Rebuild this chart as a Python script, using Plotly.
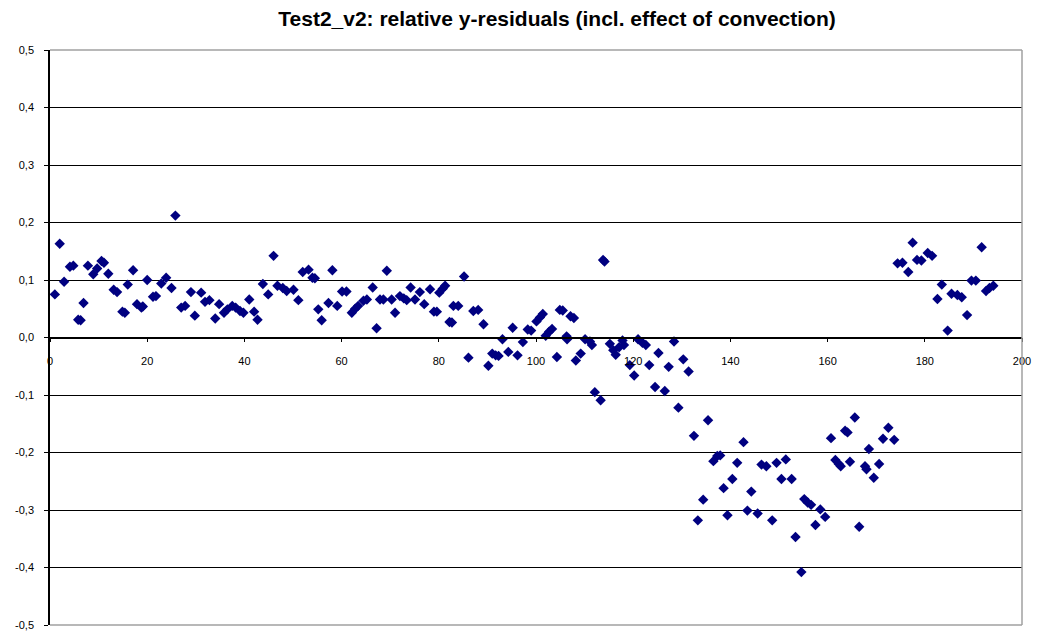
import plotly.graph_objects as go

x_vals = [1.0, 2.0, 2.9, 4.1, 4.8, 5.8, 6.3, 6.9, 7.8, 8.9, 9.7, 10.6, 11.1, 12.0, 13.1, 13.8,
          14.9, 15.4, 16.0, 17.1, 17.9, 18.8, 19.1, 20.0, 21.2, 21.8, 22.9, 23.9, 25.0, 25.8,
          27.0, 27.8, 29.0, 29.8, 31.1, 31.9, 32.8, 34.0, 34.8, 35.8, 36.5, 37.5, 38.2, 39.1,
          39.8, 41.0, 42.0, 42.7, 43.8, 44.9, 46.0, 46.8, 47.9, 48.7, 50.1, 51.1, 52.0, 53.2,
          54.0, 54.5, 55.2, 55.9, 57.3, 58.1, 59.1, 60.1, 61.0, 62.1, 62.8, 63.4, 64.5, 65.2,
          66.4, 67.2, 67.9, 68.6, 69.3, 70.3, 71.0, 72.0, 72.8, 73.4, 74.2, 75.1, 76.1, 77.0,
          78.2, 79.0, 79.6, 80.1, 80.8, 81.3, 82.2, 82.7, 83.0, 84.0, 85.2, 86.1, 87.1, 88.1,
          89.2, 90.2, 91.0, 91.7, 92.3, 93.1, 94.3, 95.2, 96.2, 97.3, 98.3, 99.0, 100.1, 100.8,
          101.4, 102.0, 102.7, 103.3, 104.3, 104.9, 105.5, 106.3, 106.4, 107.1, 107.8, 108.2,
          109.2, 110.1, 111.1, 111.5, 112.1, 113.3, 113.8, 114.1, 115.2, 115.9, 116.4, 117.1,
          117.8, 118.1, 119.3, 120.2, 121.0, 121.9, 122.6, 123.3, 124.5, 125.2, 126.5, 127.3,
          128.4, 129.3, 130.3, 131.4, 132.5, 133.3, 134.4, 135.4, 136.5, 137.3, 137.9, 138.6,
          139.4, 140.4, 141.4, 142.7, 143.5, 144.3, 145.6, 146.4, 147.4, 148.6, 149.5, 150.5,
          151.4, 152.6, 153.4, 154.6, 155.2, 155.9, 156.6, 157.5, 158.5, 159.5, 160.7, 161.6,
          162.3, 162.7, 163.6, 164.1, 164.6, 165.6, 166.5, 167.7, 168.0, 168.5, 169.5, 170.6,
          171.4, 172.5, 173.7, 174.4, 175.4, 176.6, 177.5, 178.4, 179.3, 180.6, 181.5, 182.6,
          183.5, 184.7, 185.5, 186.7, 187.6, 188.7, 189.6, 190.5, 191.7, 192.6, 193.3, 194.1]

y_vals = [0.075, 0.163, 0.097, 0.123, 0.125, 0.031, 0.030, 0.060, 0.125, 0.110, 0.120, 0.133, 0.130, 0.111, 0.083, 0.079,
          0.045, 0.043, 0.092, 0.117, 0.058, 0.052, 0.054, 0.100, 0.071, 0.072, 0.094, 0.104, 0.086, 0.212,
          0.052, 0.055, 0.079, 0.038, 0.078, 0.062, 0.065, 0.033, 0.058, 0.043, 0.049, 0.055, 0.052, 0.046,
          0.043, 0.066, 0.045, 0.031, 0.093, 0.075, 0.142, 0.090, 0.086, 0.081, 0.083, 0.065, 0.114, 0.118,
          0.104, 0.103, 0.049, 0.030, 0.060, 0.117, 0.055, 0.080, 0.080, 0.043, 0.050, 0.055, 0.064, 0.066,
          0.087, 0.016, 0.066, 0.066, 0.116, 0.066, 0.043, 0.072, 0.068, 0.065, 0.087, 0.066, 0.079, 0.058,
          0.084, 0.045, 0.045, 0.078, 0.085, 0.090, 0.027, 0.026, 0.055, 0.055, 0.106, -0.035, 0.046, 0.048,
          0.023, -0.049, -0.028, -0.031, -0.032, -0.003, -0.025, 0.017, -0.031, -0.008, 0.014, 0.012, 0.028, 0.035,
          0.041, 0.003, 0.010, 0.015, -0.034, 0.048, 0.047, 0.002, -0.003, 0.037, 0.034, -0.040,
          -0.028, -0.003, -0.007, -0.013, -0.095, -0.109, 0.135, 0.132, -0.011, -0.022, -0.030, -0.017,
          -0.005, -0.013, -0.048, -0.066, -0.003, -0.009, -0.013, -0.048, -0.086, -0.027, -0.093, -0.051,
          -0.007, -0.122, -0.038, -0.059, -0.171, -0.318, -0.282, -0.144, -0.215, -0.206, -0.205, -0.262,
          -0.309, -0.246, -0.218, -0.182, -0.301, -0.268, -0.306, -0.221, -0.224, -0.318, -0.218, -0.246,
          -0.212, -0.246, -0.347, -0.408, -0.281, -0.287, -0.291, -0.326, -0.299, -0.312, -0.175, -0.213,
          -0.220, -0.224, -0.162, -0.165, -0.216, -0.139, -0.329, -0.224, -0.229, -0.194, -0.244, -0.220,
          -0.176, -0.157, -0.178, 0.129, 0.130, 0.114, 0.165, 0.135, 0.134, 0.147, 0.142, 0.067,
          0.092, 0.012, 0.076, 0.074, 0.070, 0.039, 0.099, 0.099, 0.157, 0.081, 0.086, 0.090]

x_ticks = [0, 20, 40, 60, 80, 100, 120, 140, 160, 180, 200]
y_ticks = [-0.5, -0.4, -0.3, -0.2, -0.1, 0.0, 0.1, 0.2, 0.3, 0.4, 0.5]
y_ticktext = ["-0,5", "-0,4", "-0,3", "-0,2", "-0,1", "0,0", "0,1", "0,2", "0,3", "0,4", "0,5"]
title_text = "Test2_v2: relative y-residuals (incl. effect of convection)"

fig = go.Figure()
fig.add_trace(go.Scatter(
    x=x_vals, y=y_vals, mode="markers",
    marker=dict(symbol="diamond", size=8, color="#000080", line=dict(width=0)),
    showlegend=False,
))

fig.update_layout(
    width=1038, height=632,
    margin=dict(l=50, r=16, t=50, b=7),
    paper_bgcolor="white", plot_bgcolor="white",
    font=dict(family="Liberation Sans, Arial, sans-serif", size=11, color="black"),
    title=dict(text="<b>" + title_text + "</b>", x=557 / 1038, xanchor="center",
               y=1 - 19 / 632, yanchor="middle", yref="container",
               font=dict(family="Liberation Sans", size=21, color="black")),
    xaxis=dict(range=[0, 200], tickvals=x_ticks, ticks="outside", ticklen=4,
               tickcolor="black", showline=True, linecolor="black", linewidth=1.5,
               showgrid=False, zeroline=False, anchor="free", position=0.5,
               ticklabelstandoff=10),
    yaxis=dict(range=[-0.5, 0.5], tickvals=y_ticks, ticktext=y_ticktext,
               ticks="outside", ticklen=4, tickcolor="black", showline=True,
               linecolor="black", linewidth=1.5, showgrid=True, gridcolor="black",
               gridwidth=1.2, zeroline=False, ticklabelstandoff=8, automargin=False,
               ticklabeloverflow="allow"),
    shapes=[
        dict(type="line", xref="paper", yref="paper", x0=0, x1=1, y0=1, y1=1,
             line=dict(color="#a0a0a0", width=1.5), layer="above"),
        dict(type="line", xref="paper", yref="paper", x0=1, x1=1, y0=0, y1=1,
             line=dict(color="#a0a0a0", width=1.5), layer="above"),
        dict(type="line", xref="paper", yref="paper", x0=0, x1=1, y0=0, y1=0,
             line=dict(color="#a0a0a0", width=1.5), layer="above"),
    ],
)

fig.write_html("out.html")
